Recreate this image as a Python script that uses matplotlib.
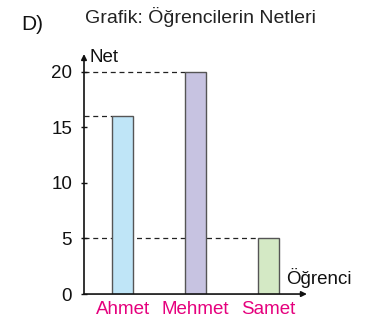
import matplotlib.pyplot as plt

plt.rcParams['font.family'] = ['Liberation Sans', 'DejaVu Sans']

# Data
students = ["Ahmet", "Mehmet", "Samet"]
nets = [16, 20, 5]
bar_colors = ["#bfe5f7", "#c7c3e1", "#d4e9c5"]
y_ticks = [0, 5, 10, 15, 20]

fig = plt.figure(figsize=(3.74, 3.21), dpi=100)
ax = fig.add_axes([0.2246, 0.084, 0.596, 0.7477])

x = list(range(len(students)))
ax.set_xlim(-0.53, 2.53)
ax.set_ylim(0, 21.6)

# Bars
ax.bar(x, nets, width=0.29, color=bar_colors, edgecolor="#555555", linewidth=1, zorder=3)

# Dashed guide lines from the axis to each bar
for xi, v in zip(x, nets):
    ax.hlines(v, -0.53, xi - 0.145, colors="#222222", linestyles=(0, (4, 3)), linewidth=0.9, zorder=1)

# Axes with arrows
for s in ax.spines.values():
    s.set_visible(False)
ax.annotate("", xy=(-0.53, 21.6), xytext=(-0.53, 0), xycoords="data",
            arrowprops=dict(arrowstyle="-|>", color="#111111", lw=1.2, mutation_scale=8, shrinkA=0, shrinkB=0))
ax.annotate("", xy=(2.53, 0), xytext=(-0.53, 0), xycoords="data",
            arrowprops=dict(arrowstyle="-|>", color="#111111", lw=1.2, mutation_scale=8, shrinkA=0, shrinkB=0),
            annotation_clip=False)

ax.set_yticks(y_ticks)
ax.tick_params(axis="y", direction="inout", length=5, width=1, labelsize=13.5, pad=6, colors="#111111")
ax.set_xticks(x)
ax.set_xticklabels(students)
ax.tick_params(axis="x", length=0, labelsize=13.5, pad=5, labelcolor="#e5007d")

ax.text(-0.45, 21.3, "Net", fontsize=13.5, va="center", ha="left", color="#111111")
ax.text(2.25, 1.4, "Öğrenci", fontsize=13.5, va="center", ha="left", color="#111111")

fig.text(0.535, 0.947, "Grafik: Öğrencilerin Netleri", fontsize=14, ha="center", va="center", color="#222222")
fig.text(0.058, 0.923, "D)", fontsize=15, ha="left", va="center", color="#111111")

fig.savefig("out.png", dpi=100)
